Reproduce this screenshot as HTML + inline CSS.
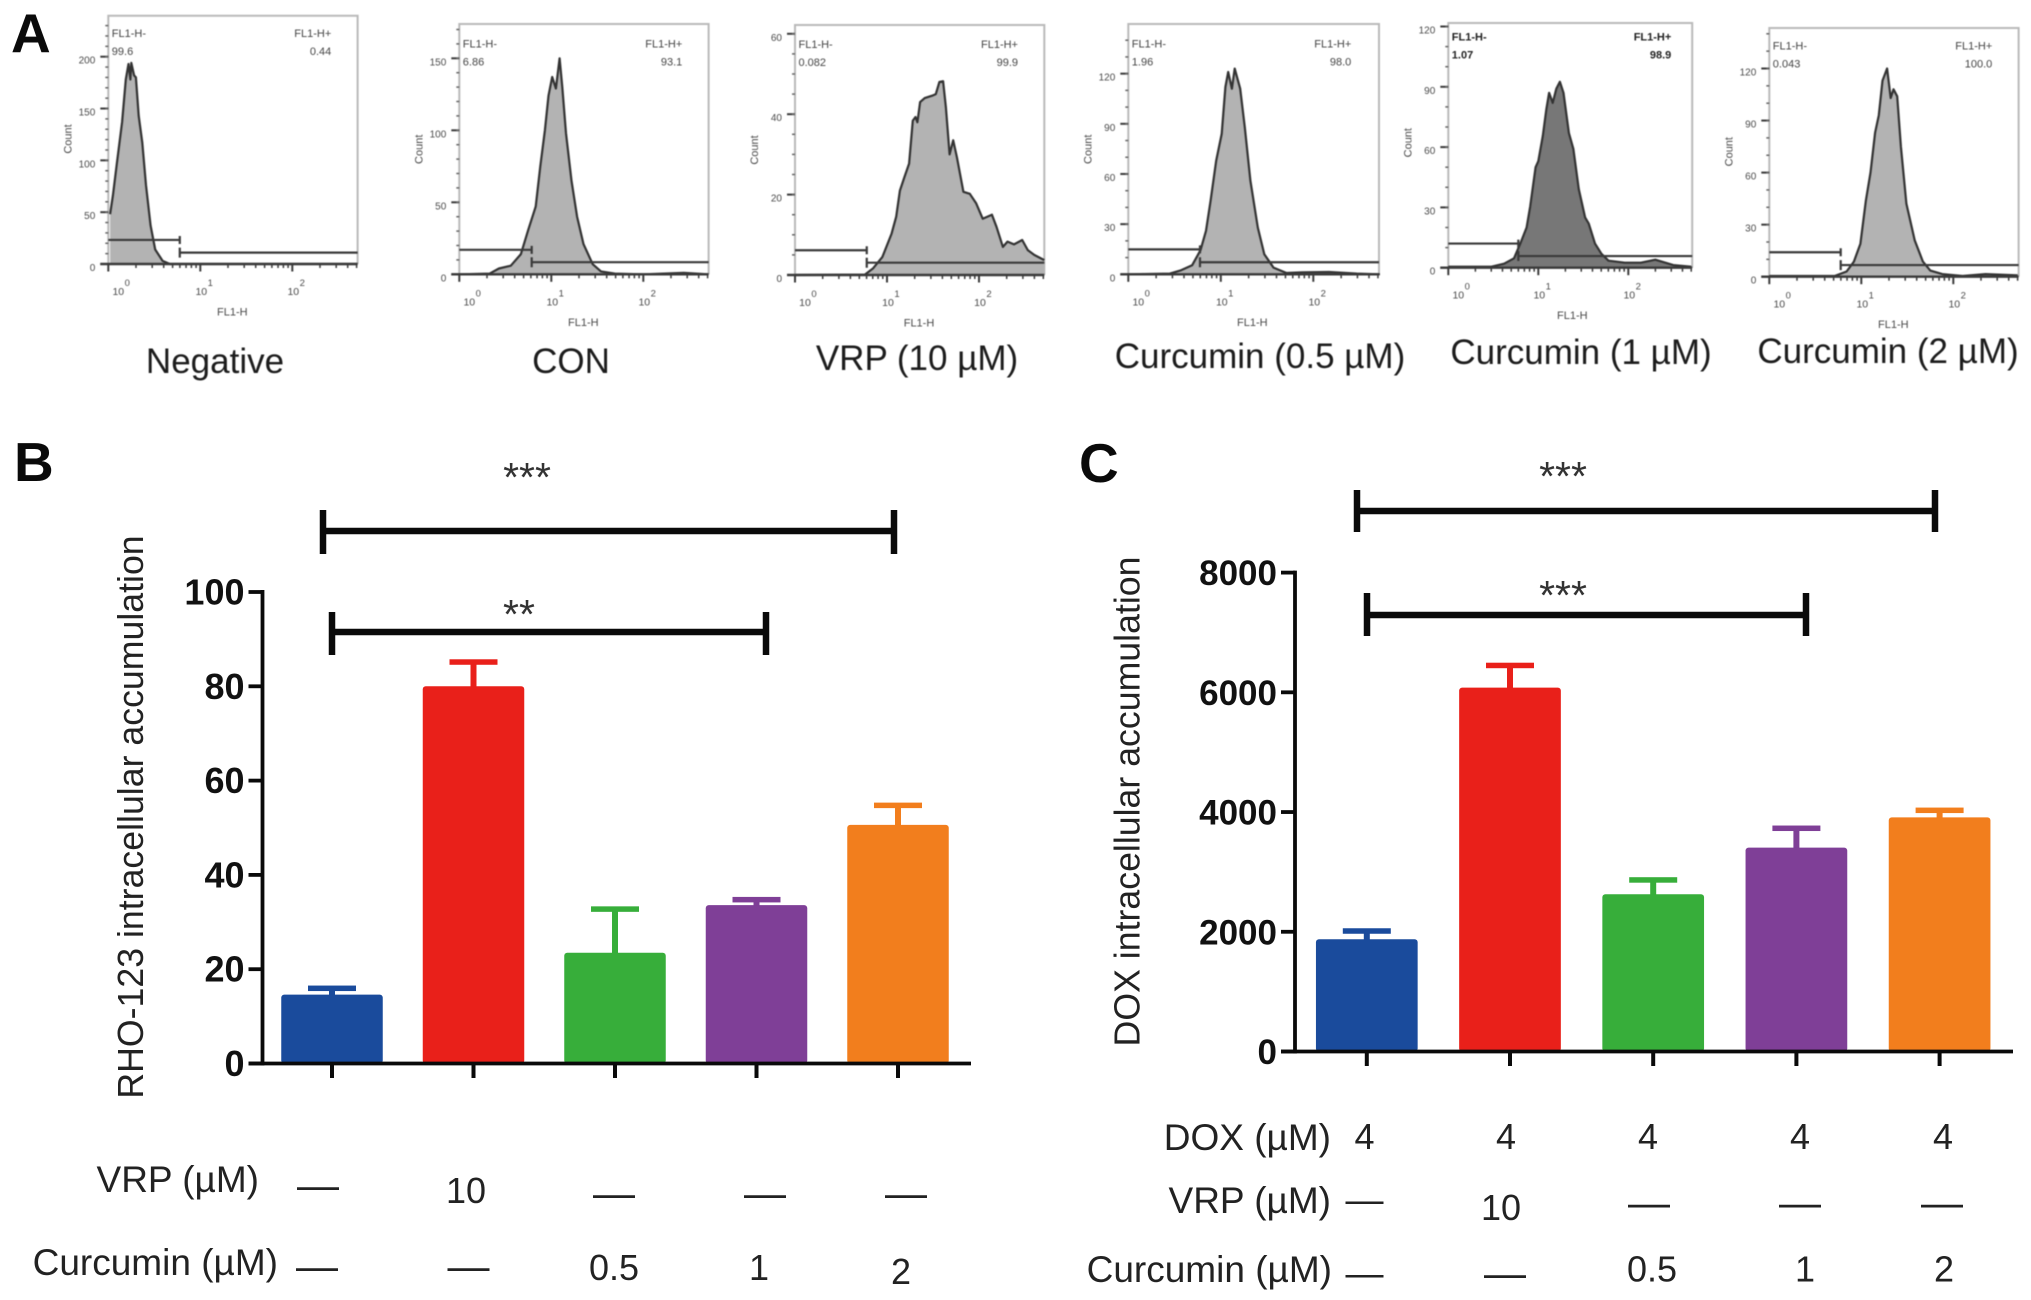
<!DOCTYPE html>
<html lang="en">
<head>
<meta charset="utf-8">
<title>Flow cytometry and intracellular accumulation</title>
<style>
html,body{margin:0;padding:0;background:#fff;width:2031px;height:1300px;overflow:hidden}
svg{display:block;font-family:"Liberation Sans",Arial,sans-serif}
.cap{font-size:35px;fill:#1c1c1c;text-anchor:middle}
.row{font-size:37px;fill:#222}
.num{font-size:36px;fill:#222}
.r{text-anchor:end}
.m{text-anchor:middle}
.dash{font-size:42px;fill:#222;text-anchor:middle}
.dash-narrow{font-size:38px;fill:#222;text-anchor:middle}
.letter{font-size:55px;font-weight:bold;fill:#0a0a0a}
.star{font-size:41px;fill:#333;text-anchor:middle}
.ytitle{font-size:35.7px;fill:#222;text-anchor:middle}
.soft{filter:blur(.55px)}
</style>
</head>
<body>
<svg id="figure" width="2031" height="1300" viewBox="0 0 2031 1300" xmlns="http://www.w3.org/2000/svg">
  <rect width="2031" height="1300" fill="#fff"/>
  <text class="letter" x="11" y="52">A</text>
  <text class="letter" x="14" y="481">B</text>
  <text class="letter" x="1079" y="482">C</text>

  <g id="flow-panels" class="soft"></g>

  <g class="soft">
    <text class="cap" x="215" y="373">Negative</text>
    <text class="cap" x="571" y="373">CON</text>
    <text class="cap" x="917" y="370">VRP (10 µM)</text>
    <text class="cap" x="1260" y="368">Curcumin (0.5 µM)</text>
    <text class="cap" x="1581" y="364">Curcumin (1 µM)</text>
    <text class="cap" x="1888" y="363">Curcumin (2 µM)</text>
  </g>

  <g id="chart-b"></g>
  <g id="chart-c"></g>

  <text class="ytitle" transform="translate(143,817) rotate(-90)">RHO-123 intracellular accumulation</text>
  <text class="ytitle" transform="translate(1139.5,801.5) rotate(-90)">DOX intracellular accumulation</text>

  <g stroke="#0a0a0a" stroke-width="6.5" fill="none">
    <path d="M323 510V554M323 531H894M894 510V554"/>
    <path d="M332 612V655M332 632H766M766 612V655"/>
  </g>
  <text class="star" x="527" y="491">***</text>
  <text class="star" x="519" y="628">**</text>

  <g stroke="#0a0a0a" stroke-width="6.5" fill="none">
    <path d="M1357 490V532M1357 511H1935M1935 490V532"/>
    <path d="M1367 593V636M1367 615H1806M1806 593V636"/>
  </g>
  <text class="star" x="1563" y="490">***</text>
  <text class="star" x="1563" y="609">***</text>

  <g>
    <text class="row r" x="259" y="1192">VRP (µM)</text>
    <text class="dash" x="318" y="1199">—</text>
    <text class="num m" x="466" y="1203">10</text>
    <text class="dash" x="614" y="1207">—</text>
    <text class="dash" x="765" y="1207">—</text>
    <text class="dash" x="906" y="1207">—</text>
    <text class="row r" x="278" y="1275">Curcumin (µM)</text>
    <text class="dash" x="317" y="1280">—</text>
    <text class="dash" x="468.5" y="1280">—</text>
    <text class="num m" x="614" y="1280">0.5</text>
    <text class="num m" x="759" y="1280">1</text>
    <text class="num m" x="901" y="1284">2</text>
  </g>

  <g>
    <text class="row r" x="1331" y="1150">DOX (µM)</text>
    <text class="num m" x="1364.5" y="1149">4</text>
    <text class="num m" x="1506" y="1149">4</text>
    <text class="num m" x="1648" y="1149">4</text>
    <text class="num m" x="1800" y="1149">4</text>
    <text class="num m" x="1943" y="1149">4</text>
    <text class="row r" x="1331" y="1213">VRP (µM)</text>
    <text class="dash-narrow" x="1364.5" y="1212.5">—</text>
    <text class="num m" x="1501" y="1220">10</text>
    <text class="dash" x="1649" y="1216.5">—</text>
    <text class="dash" x="1800" y="1216.5">—</text>
    <text class="dash" x="1942" y="1216.5">—</text>
    <text class="row r" x="1332" y="1282">Curcumin (µM)</text>
    <text class="dash-narrow" x="1364.5" y="1286">—</text>
    <text class="dash" x="1505" y="1287">—</text>
    <text class="num m" x="1652" y="1281.5">0.5</text>
    <text class="num m" x="1805" y="1281.5">1</text>
    <text class="num m" x="1944" y="1281.5">2</text>
  </g>
</svg>

<script>
// ---- Panel B data ----
const treatmentGroups = ['Control', 'VRP 10', 'Curcumin 0.5', 'Curcumin 1', 'Curcumin 2'];
const rhoValues = [14.6, 80, 23.5, 33.6, 50.6];
const rhoErrorTops = [16, 85.2, 32.8, 34.8, 54.8];
const rhoTicks = [0, 20, 40, 60, 80, 100];

// ---- Panel C data ----
const doxValues = [1876, 6078, 2626, 3405, 3912];
const doxErrorTops = [2017, 6453, 2870, 3733, 4033];
const doxTicks = [0, 2000, 4000, 6000, 8000];

// ---- Panel A data: FL1-H (log10) and count for each histogram ----
const negativeLog = [0.02,0.05,0.09,0.15,0.19,0.22,0.24,0.25,0.28,0.30,0.33,0.37,0.41,0.46,0.51,0.59,0.67,0.99,2.71];
const negativeCount = [48,66,95,137,178,193,178,194,182,180,143,117,76,37,14,3,0,0,0];
const negativeTicks = [0,50,100,150,200];

const conLog = [0,.33,.43,.56,.67,.75,.83,.88,.93,.97,1.01,1.05,1.09,1.12,1.16,1.22,1.28,1.35,1.45,1.54,1.69,2.0,2.44,2.71];
const conCount = [0,.5,4,6,14,31,47,75,100,124,137,129,150,130,98,65,40,21,7,2,.5,0,1,0];
const conTicks = [0,50,100,150];

const vrpLog = [0,.76,.85,.95,1.05,1.10,1.14,1.19,1.24,1.28,1.31,1.33,1.36,1.41,1.49,1.53,1.57,1.61,1.64,1.68,1.72,1.76,1.83,1.90,1.97,2.04,2.14,2.19,2.26,2.31,2.38,2.47,2.53,2.60,2.71];
const vrpCount = [0,.1,1.7,4.5,10.3,14.5,21,24.4,27.7,38.4,39.3,38,43,44,44.6,45,48,48.2,41.7,30,33.5,29.3,20.7,20.2,17.8,14,15,12,7,8.3,7.6,8.7,6.2,5,3.7];
const vrpTicks = [0,20,40,60];

const cur05Log = [0,.45,.57,.69,.78,.84,.89,.95,1.01,1.05,1.08,1.12,1.15,1.21,1.26,1.32,1.40,1.47,1.57,1.71,1.88,2.17,2.47,2.72];
const cur05Count = [0,.4,2.4,5.4,14.4,26,44,68,84,112,121,111,123,111,88,56,28,12,4,.8,1.2,1.4,.4,0];
const cur05Ticks = [0,30,60,90,120];

const cur1Log = [0,.48,.62,.73,.80,.87,.91,.97,1.0,1.05,1.09,1.12,1.16,1.20,1.24,1.28,1.34,1.39,1.45,1.52,1.56,1.63,1.70,1.78,1.96,2.14,2.30,2.50,2.70];
const cur1Count = [.5,.5,2,4.7,12,20,30.5,50,53,65.5,79,87,82,89,92.5,87,67,59,39,25,22,12,7,3.5,2.5,2.5,4,1.3,.5];
const cur1Ticks = [0,30,60,90,120];

const cur2Log = [0,.71,.84,.92,.99,1.05,1.10,1.15,1.19,1.23,1.28,1.32,1.35,1.39,1.43,1.49,1.58,1.67,1.75,1.88,2.10,2.35,2.70];
const cur2Count = [.4,.4,3,8.7,19,44,60,83,93,113,120,103,108,104,75,42,21,8.7,3.5,1.5,.4,1.5,.8];
const cur2Ticks = [0,30,60,90,120];

// ---- Styling and layout (not data) ----
const barColors = ['#1a4b9c', '#e9201a', '#37ae3a', '#7f3f97', '#f27e1d'];
const SVGNS = 'http://www.w3.org/2000/svg';

function make(tag, attrs, parent, text) {
  const el = document.createElementNS(SVGNS, tag);
  for (const k in attrs) el.setAttribute(k, attrs[k]);
  if (text !== undefined) el.textContent = text;
  parent.appendChild(el);
  return el;
}

function drawBarChart(root, prefix, cfg) {
  const yScale = v => cfg.yBottom - (v - cfg.yMin) / (cfg.yMax - cfg.yMin) * (cfg.yBottom - cfg.yTop);
  const xScale = i => cfg.xFirst + i * cfg.xStep;

  cfg.categories.forEach((name, i) => {
    const color = barColors[i];
    const cx = xScale(i);
    const stem = make('rect', {x: cx - 3, y: yScale(cfg.errors[i]), width: 6, height: yScale(cfg.values[i]) - yScale(cfg.errors[i]) + 4, fill: color}, root);
    
    
    const cap = make('rect', {x: cx - 24, y: yScale(cfg.errors[i]) - 2.5, width: 48, height: 5.5, fill: color}, root);
    
    
    const bar = make('rect', {x: cx - cfg.barWidth / 2, y: yScale(cfg.values[i]), width: cfg.barWidth, height: yScale(0) - yScale(cfg.values[i]), rx: 3, fill: color}, root);
    
    
    const tick = make('line', {x1: cx, x2: cx, y1: yScale(0), y2: yScale(0) + 14.5, stroke: '#0a0a0a', 'stroke-width': 4}, root);
    
    
  });

  const yAxis = make('line', {x1: cfg.axisX, x2: cfg.axisX, y1: yScale(cfg.yMax) - 2, y2: yScale(0) + 2, stroke: '#0a0a0a', 'stroke-width': 3.8}, root);
  
  
  const xAxis = make('line', {x1: cfg.axisX - 14, x2: cfg.xEnd, y1: yScale(0), y2: yScale(0), stroke: '#0a0a0a', 'stroke-width': 3.8}, root);
  
  

  cfg.ticks.forEach(t => {
    const tick = make('line', {x1: cfg.axisX - 14, x2: cfg.axisX, y1: yScale(t), y2: yScale(t), stroke: '#0a0a0a', 'stroke-width': 3.8}, root);
    
    
    const label = make('text', {x: cfg.axisX - 18, y: yScale(t) + 12.5, 'text-anchor': 'end', 'font-size': cfg.tickFont, 'font-weight': 'bold', fill: '#111'}, root, String(t));
    
    
  });
}

drawBarChart(document.getElementById('chart-b'), 'rho', {
  categories: treatmentGroups, values: rhoValues, errors: rhoErrorTops, ticks: rhoTicks,
  yMin: 0, yMax: 100, yTop: 592, yBottom: 1063.5,
  xFirst: 332, xStep: 141.5, barWidth: 101.5, axisX: 262.5, xEnd: 971, tickFont: 36
});
drawBarChart(document.getElementById('chart-c'), 'dox', {
  categories: treatmentGroups, values: doxValues, errors: doxErrorTops, ticks: doxTicks,
  yMin: 0, yMax: 8000, yTop: 572.6, yBottom: 1051.5,
  xFirst: 1366.8, xStep: 143.2, barWidth: 101.7, axisX: 1295, xEnd: 2013, tickFont: 35
});

function drawFlowPanel(root, p) {
  const maxLog = 2.71;
  const xs = v => p.x0 + v * p.decade;
  const ys = c => p.y0 - c * p.perCount;
  const g = make('g', {}, root);
  
  

  const right = xs(maxLog);
  const frame = make('path', {d: 'M' + p.x0 + ' ' + p.y0 + 'V' + p.top + 'H' + right + 'V' + p.y0, fill: 'none', stroke: '#b9b9b9', 'stroke-width': 2}, g);
  
  

  let d = 'M' + xs(p.logs[0]) + ' ' + ys(0);
  p.logs.forEach((v, i) => { d += 'L' + xs(v).toFixed(1) + ' ' + ys(p.counts[i]).toFixed(1); });
  const area = make('path', {d: d + 'L' + xs(p.logs[p.logs.length - 1]) + ' ' + ys(0) + 'Z', fill: p.fill, stroke: 'none'}, g);
  
  
  let ln = '';
  p.logs.forEach((v, i) => { ln += (i ? 'L' : 'M') + xs(v).toFixed(1) + ' ' + ys(p.counts[i]).toFixed(1); });
  const curve = make('path', {d: ln, fill: 'none', stroke: '#333', 'stroke-width': 2.2, 'stroke-linejoin': 'round'}, g);
  
  

  const base = make('line', {x1: p.x0 - 8, x2: right, y1: p.y0, y2: p.y0, stroke: '#3a3a3a', 'stroke-width': 2.4}, g);
  
  

  // x ticks, log spaced
  for (let dec = 0; dec < 3; dec++) {
    for (let m = 1; m < 10; m++) {
      const v = dec + Math.log10(m);
      if (v > maxLog) continue;
      const tick = make('line', {x1: xs(v), x2: xs(v), y1: p.y0, y2: p.y0 + (m === 1 ? 7.5 : 4), stroke: '#3a3a3a', 'stroke-width': m === 1 ? 2 : 1.5}, g);
      
      
    }
    const shift = dec === 0 ? 10 : 1;
    const lbl = make('text', {x: xs(dec) + shift, y: p.y0 + 31, 'text-anchor': 'middle', 'font-size': 10.5, fill: '#4a4a4a'}, g, '10');
    
    
    const sup = make('text', {x: xs(dec) + shift + 9, y: p.y0 + 22, 'text-anchor': 'middle', 'font-size': 9.5, fill: '#4a4a4a'}, g, String(dec));
    
    
  }

  // y ticks
  const step = p.ticks[1] - p.ticks[0];
  p.ticks.forEach(t => {
    const tick = make('line', {x1: p.x0 - 8, x2: p.x0, y1: ys(t), y2: ys(t), stroke: '#3a3a3a', 'stroke-width': 2}, g);
    
    
    const lbl = make('text', {x: p.x0 - 13, y: ys(t) + 7, 'text-anchor': 'end', 'font-size': 10, fill: '#4a4a4a'}, g, String(t));
    
    
  });
  const minorStep = step / (step === 50 ? 5 : step === 20 ? 4 : 3);
  for (let c = minorStep; ys(c) > p.top + 2; c += minorStep) {
    const tick = make('line', {x1: p.x0 - 3, x2: p.x0, y1: ys(c), y2: ys(c), stroke: '#666', 'stroke-width': 1.5}, g);
    
    
  }

  // Gates
  const gx = xs(p.gate[0]);
  const gatePath = 'M' + p.x0 + ' ' + ys(p.gate[1]) + 'H' + gx + 'M' + gx + ' ' + (ys(p.gate[1]) - 4) + 'V' + (ys(p.gate[1]) + 4) +
    'M' + gx + ' ' + (ys(p.gate[2]) - 5) + 'V' + (ys(p.gate[2]) + 5) + 'M' + gx + ' ' + ys(p.gate[2]) + 'H' + right;
  const gate = make('path', {d: gatePath, fill: 'none', stroke: '#3a3a3a', 'stroke-width': 2.2}, g);
  
  

  // Text
  const weight = p.bold ? 'bold' : 'normal';
  const textFill = p.bold ? '#222' : '#444';
  const tl = make('text', {x: p.x0 + 3.5, y: p.y0 - 227, 'font-size': 11, 'font-weight': weight, fill: textFill}, g, 'FL1-H-');
  
  
  const tv = make('text', {x: p.x0 + 3.5, y: p.y0 - 209, 'font-size': 11, 'font-weight': weight, fill: textFill}, g, p.neg);
  
  
  const rl = make('text', {x: p.x0 + 223, y: p.y0 - 227, 'font-size': 11, 'text-anchor': 'end', 'font-weight': weight, fill: textFill}, g, 'FL1-H+');
  
  
  const rv = make('text', {x: p.x0 + 223, y: p.y0 - 209, 'font-size': 11, 'text-anchor': 'end', 'font-weight': weight, fill: textFill}, g, p.pos);
  
  
  const xt = make('text', {x: p.x0 + 124, y: p.y0 + 51.5, 'text-anchor': 'middle', 'font-size': 11, fill: '#4a4a4a'}, g, 'FL1-H');
  
  
  const yt = make('text', {transform: 'translate(' + (p.x0 - 37) + ',' + (p.y0 - 125) + ') rotate(-90)', 'text-anchor': 'middle', 'font-size': 11, fill: '#4a4a4a'}, g, 'Count');
  
  
}

const flowRoot = document.getElementById('flow-panels');
drawFlowPanel(flowRoot, {name: 'negative', logs: negativeLog, counts: negativeCount, ticks: negativeTicks, x0: 108.3, decade: 92, y0: 264, perCount: 1.0365, top: 15.7, gate: [.777, 23.2, 11], neg: '99.6', pos: '0.44', fill: '#b3b3b3'});
drawFlowPanel(flowRoot, {name: 'con', logs: conLog, counts: conCount, ticks: conTicks, x0: 459.3, decade: 92, y0: 274.3, perCount: 1.44, top: 24, gate: [.787, 17, 8.4], neg: '6.86', pos: '93.1', fill: '#b3b3b3'});
drawFlowPanel(flowRoot, {name: 'vrp', logs: vrpLog, counts: vrpCount, ticks: vrpTicks, x0: 795, decade: 92, y0: 275, perCount: 4.02, top: 25, gate: [.78, 6.15, 3.06], neg: '0.082', pos: '99.9', fill: '#b3b3b3'});
drawFlowPanel(flowRoot, {name: 'curcumin-05', logs: cur05Log, counts: cur05Count, ticks: cur05Ticks, x0: 1128.3, decade: 92.5, y0: 274.3, perCount: 1.672, top: 24, gate: [.775, 14.9, 7.2], neg: '1.96', pos: '98.0', fill: '#b3b3b3'});
drawFlowPanel(flowRoot, {name: 'curcumin-1', logs: cur1Log, counts: cur1Count, ticks: cur1Ticks, x0: 1448.3, decade: 90, y0: 267.7, perCount: 2.01, top: 23, gate: [.778, 12, 5.8], neg: '1.07', pos: '98.9', fill: '#777777', bold: true});
drawFlowPanel(flowRoot, {name: 'curcumin-2', logs: cur2Log, counts: cur2Count, ticks: cur2Ticks, x0: 1769.3, decade: 92, y0: 276.7, perCount: 1.735, top: 28, gate: [.776, 14.1, 6.7], neg: '0.043', pos: '100.0', fill: '#b3b3b3'});
</script>
</body>
</html>
